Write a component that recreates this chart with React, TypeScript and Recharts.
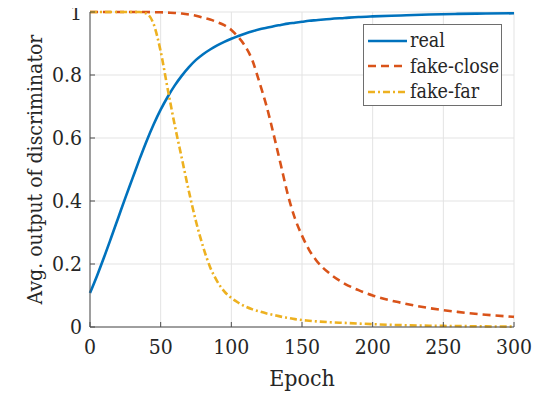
import React from "react";
import {
  LineChart,
  Line,
  XAxis,
  YAxis,
  CartesianGrid,
  Legend,
} from "recharts";

const epochs = [
  0, 5, 10, 15, 20, 25, 30, 35, 40, 45, 50, 55, 60, 65, 70, 75, 80, 85, 90, 95,
  100, 105, 110, 115, 120, 125, 130, 135, 140, 145, 150, 155, 160, 170, 180,
  190, 200, 220, 240, 260, 280, 300,
];

const real = [
  0.108, 0.163, 0.222, 0.284, 0.347, 0.41, 0.471, 0.532, 0.59, 0.643, 0.69,
  0.731, 0.767, 0.798, 0.825, 0.848, 0.866, 0.881, 0.894, 0.905, 0.915, 0.924,
  0.932, 0.939, 0.945, 0.95, 0.955, 0.959, 0.963, 0.966, 0.969, 0.972, 0.974,
  0.978, 0.981, 0.984, 0.986, 0.989, 0.992, 0.994, 0.995, 0.996,
];

const fakeClose = [
  1, 1, 1, 1, 1, 1, 1, 1, 1, 0.999, 0.999, 0.998, 0.997, 0.995, 0.992, 0.988,
  0.982, 0.976, 0.968, 0.958, 0.943, 0.92, 0.89, 0.845, 0.775, 0.7, 0.61,
  0.515, 0.42, 0.345, 0.29, 0.245, 0.212, 0.168, 0.138, 0.117, 0.1, 0.077,
  0.06, 0.048, 0.039, 0.032,
];

const fakeFar = [
  1, 1, 1, 1, 1, 1, 1, 1, 0.995, 0.962, 0.875, 0.755, 0.64, 0.535, 0.43, 0.335,
  0.255, 0.19, 0.145, 0.113, 0.092, 0.077, 0.065, 0.056, 0.049, 0.043, 0.038,
  0.033, 0.029, 0.025, 0.022, 0.02, 0.018, 0.015, 0.013, 0.011, 0.009, 0.006,
  0.004, 0.003, 0.002, 0.001,
];

const xTicks = [0, 50, 100, 150, 200, 250, 300];
const yTicks = [0, 0.2, 0.4, 0.6, 0.8, 1];

const data = epochs.map((epoch, i) => ({
  epoch,
  real: real[i],
  fakeClose: fakeClose[i],
  fakeFar: fakeFar[i],
}));

// only DejaVu Serif came out as a serif face here
const serif = "DejaVu Serif Condensed, DejaVu Serif";
const axisColor = "#4d4d4d";
const textColor = "#262626";
const tickStyle = { fontFamily: serif, fontSize: 21, fill: textColor };

const series = [
  { key: "real", name: "real", color: "#0072BD", dash: undefined },
  { key: "fakeClose", name: "fake-close", color: "#D95319", dash: "8 5" },
  { key: "fakeFar", name: "fake-far", color: "#EDB120", dash: "7 3 2 3" },
];

const renderLegend = () => (
  <div
    style={{
      width: 139,
      height: 82,
      boxSizing: "border-box",
      border: "1px solid #6e6e6e",
      background: "#fff",
      fontFamily: serif,
      fontSize: 19.5,
      color: textColor,
      paddingTop: 3,
    }}
  >
    {series.map((s) => (
      <div
        key={s.key}
        style={{ display: "flex", alignItems: "center", height: 25.5 }}
      >
        <svg width={45} height={10} style={{ flex: "none" }}>
          <line
            x1={4}
            y1={5}
            x2={43}
            y2={5}
            stroke={s.color}
            strokeWidth={2.5}
            strokeDasharray={s.dash}
          />
        </svg>
        <span style={{ marginLeft: 1 }}>{s.name}</span>
      </div>
    ))}
  </div>
);

export default function App() {
  return (
    <div style={{ marginLeft: -8, marginTop: -8 }}>
      <LineChart
        width={559}
        height={394}
        data={data}
        margin={{ top: 12, right: 45, bottom: 12, left: 20 }}
      >
        <CartesianGrid stroke="#e3e3e3" strokeWidth={1} />
        <XAxis
          dataKey="epoch"
          type="number"
          domain={[0, 300]}
          ticks={xTicks}
          height={55}
          tickSize={-5}
          tickMargin={17}
          tick={tickStyle}
          stroke={axisColor}
          label={{
            value: "Epoch",
            position: "insideBottom",
            offset: -4,
            style: { fontFamily: serif, fontSize: 23, fill: textColor },
          }}
        />
        <XAxis
          xAxisId="top"
          orientation="top"
          dataKey="epoch"
          type="number"
          domain={[0, 300]}
          ticks={xTicks}
          height={0}
          tickSize={-5}
          tickFormatter={() => ""}
          stroke={axisColor}
        />
        <YAxis
          type="number"
          domain={[0, 1]}
          ticks={yTicks}
          width={70}
          tickSize={-5}
          tickMargin={13}
          tick={tickStyle}
          stroke={axisColor}
          label={{
            value: "Avg. output of discriminator",
            angle: -90,
            position: "insideLeft",
            offset: 15,
            style: {
              fontFamily: serif,
              fontSize: 21,
              fill: textColor,
              textAnchor: "middle",
            },
          }}
        />
        <YAxis
          yAxisId="right"
          orientation="right"
          type="number"
          domain={[0, 1]}
          ticks={yTicks}
          width={0}
          tickSize={-5}
          tickFormatter={() => ""}
          stroke={axisColor}
        />
        <Legend
          layout="horizontal"
          align="center"
          verticalAlign="middle"
          content={renderLegend}
          wrapperStyle={{ left: 363, top: 24, width: 139, height: 82 }}
        />
        {series.map((s) => (
          <Line
            key={s.key}
            dataKey={s.key}
            name={s.name}
            type="monotone"
            stroke={s.color}
            strokeWidth={2.6}
            strokeDasharray={s.dash}
            dot={false}
            isAnimationActive={false}
          />
        ))}
      </LineChart>
    </div>
  );
}
